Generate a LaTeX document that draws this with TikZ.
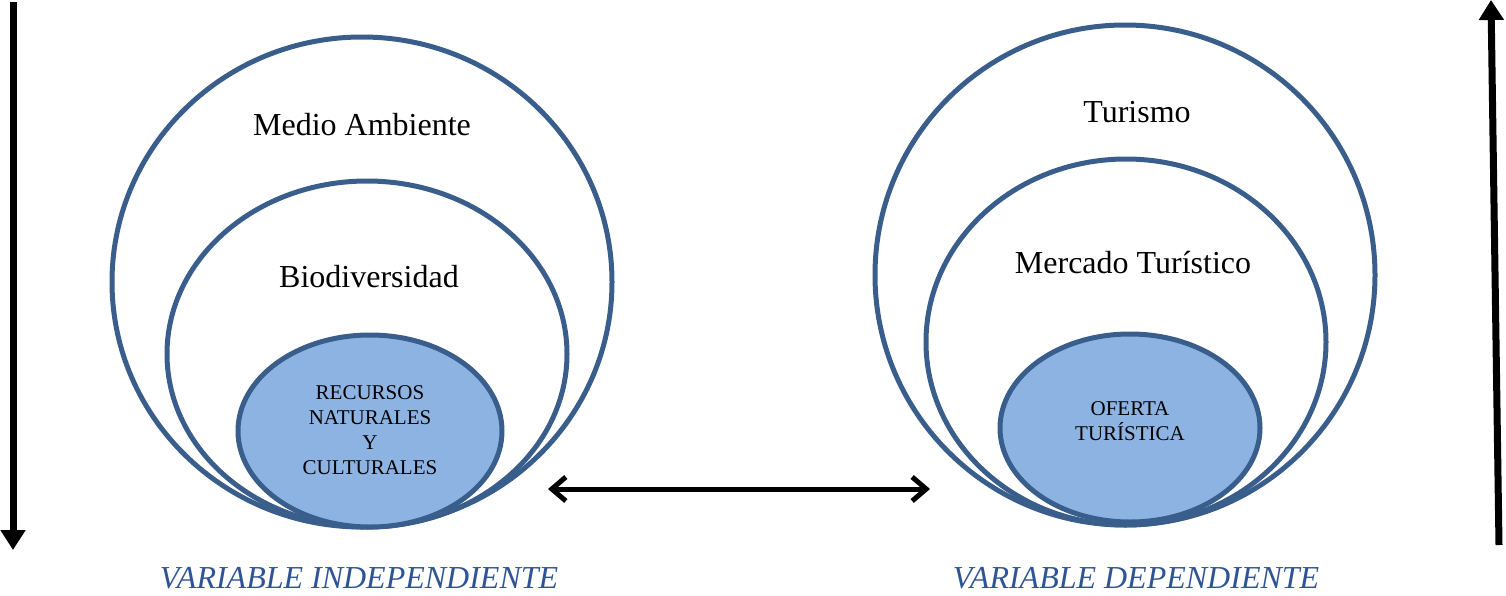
\documentclass[tikz,border=0pt]{standalone}
\usepackage{fontspec}
\setmainfont{Liberation Serif}
\usetikzlibrary{shapes.geometric,arrows.meta}
\definecolor{ringblue}{RGB}{58,94,140}
\definecolor{coreblue}{RGB}{141,179,226}
\definecolor{varblue}{RGB}{47,84,150}
\begin{document}
\begin{tikzpicture}[x=0.5pt,y=-0.5pt,
	ring/.style={ellipse,draw=ringblue,line width=2.5pt,inner sep=0pt},
	core/.style={ring,fill=coreblue},
	corelabel/.style={align=center,font=\fontsize{10.5}{12.5}\selectfont},
	title/.style={font=\fontsize{16}{19}\selectfont},
	varname/.style={font=\fontsize{16}{19}\selectfont\itshape,text=varblue}]
	\useasboundingbox (0,0) rectangle (1506,595);

	%left rings
	\node[ring,minimum width=250pt,minimum height=245pt] (ma) at (362,282) {};
	\node[ring,minimum width=200pt,minimum height=173pt] (bio) at (367,354) {};
	\node[core,minimum width=132pt,minimum height=96pt] (rec) at (370,431) {};
	\node[corelabel] (rect) at (370,430) {RECURSOS\\NATURALES\\Y\\CULTURALES};
	\node[title] (mat) at (362,125) {Medio Ambiente};
	\node[title] (biot) at (369,277) {Biodiversidad};

	%right rings
	\node[ring,minimum width=250pt,minimum height=250pt] (tur) at (1125,275) {};
	\node[ring,minimum width=200pt,minimum height=183pt] (mer) at (1126,342) {};
	\node[core,minimum width=130pt,minimum height=94pt] (of) at (1130,428) {};
	\node[corelabel] (oft) at (1130,421) {OFERTA\\TURÍSTICA};
	\node[title] (turt) at (1137,112) {Turismo};
	\node[title] (mert) at (1133,263) {Mercado Turístico};

	%variables
	\node[varname] (vi) at (359,578) {VARIABLE INDEPENDIENTE};
	\node[varname] (vd) at (1136,578) {VARIABLE DEPENDIENTE};

	%arrows
	\coordinate (a1) at (13,2);
	\coordinate (a2) at (13,550);
	\coordinate (b1) at (1499,545);
	\coordinate (b2) at (1491,0);
	\coordinate (c1) at (548,489);
	\coordinate (c2) at (930,489);
	\draw[line width=3.5pt,-{Triangle[length=10pt,width=12pt]}] (a1) -- (a2);
	\draw[line width=3.5pt,-{Triangle[length=10pt,width=12pt]}] (b1) -- (b2);
	\draw[line width=2.5pt,{Straight Barb[length=7pt,width=12pt]}-{Straight Barb[length=7pt,width=12pt]}] (c1) -- (c2);
\end{tikzpicture}
\end{document}
